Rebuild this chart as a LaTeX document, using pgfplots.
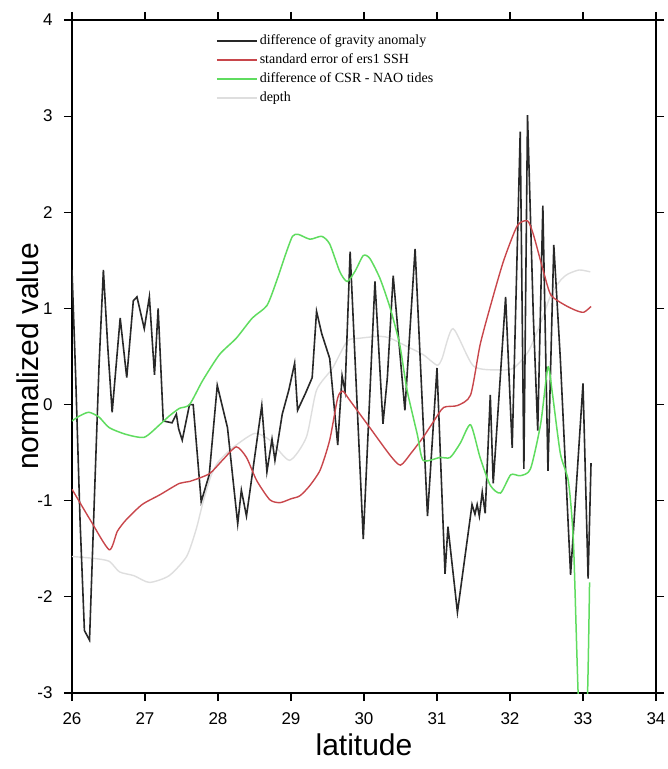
\documentclass[border=0pt]{standalone}
\usepackage{fontspec}
\setmainfont{Liberation Sans}
\newfontfamily\legfont{Liberation Serif}
\usepackage{pgfplots}
\pgfplotsset{compat=1.18}
\definecolor{gblack}{RGB}{40,40,40}
\definecolor{gred}{RGB}{200,70,75}
\definecolor{ggreen}{RGB}{95,220,95}
\definecolor{ggray}{RGB}{222,222,222}
\begin{document}
\begin{tikzpicture}
\begin{axis}[name=ax, scale only axis, width=584pt, height=673pt,
  xmin=26, xmax=34, ymin=-3, ymax=4,
  xtick={26,27,...,34}, ytick={-3,-2,...,4},
  tick align=outside, major tick length=8pt,
  axis line style={line width=1.8pt},
  every tick/.style={black, line width=1.2pt},
  /pgf/number format/assume math mode=true,
  ticklabel style={font=\fontsize{17}{17}\selectfont},
  xticklabel style={yshift=-8pt},
  yticklabel style={xshift=-8pt},
  xlabel={latitude}, ylabel={normalized value},
  label style={font=\fontsize{30}{30}\selectfont},
  xlabel style={at={(axis description cs:0.5,-0.0773)}, anchor=center},
  ylabel style={at={(axis description cs:-0.0753,0.5)}, anchor=center},
  legend style={at={(axis description cs:0.2414,0.986)}, anchor=north west,
    draw=none, fill=none, font=\legfont\fontsize{14}{16}\selectfont,
    nodes={text height=11pt, text depth=4pt, inner sep=2pt}, row sep=0pt},
  legend cell align=left,
  legend image code/.code={\draw[#1] (0pt,0pt) -- (40pt,0pt);},
]
\addplot[ggray, line width=1.4pt, forget plot, smooth, tension=0.4] coordinates {
(26.00,-1.58) (26.30,-1.60) (26.51,-1.63) (26.65,-1.74) (26.85,-1.78) (27.06,-1.85)
(27.33,-1.78) (27.57,-1.58) (27.70,-1.30) (27.79,-1.03) (27.90,-0.75) (28.00,-0.60)
(28.20,-0.45) (28.50,-0.30) (28.71,-0.37) (28.98,-0.58) (29.21,-0.34) (29.35,0.15)
(29.57,0.38) (29.77,0.66) (29.94,0.69) (30.22,0.71) (30.36,0.69) (30.60,0.60)
(30.81,0.52) (31.00,0.41) (31.07,0.48) (31.22,0.79) (31.50,0.40) (31.87,0.36)
(32.05,0.38) (32.25,0.55) (32.42,0.85) (32.56,1.14) (32.70,1.30) (32.80,1.36)
(32.95,1.40) (33.10,1.38)
};
\addplot[gblack, line width=1.6pt] coordinates {
(26.00,1.40) (26.05,0.30) (26.11,-1.20) (26.17,-2.35) (26.24,-2.45) (26.31,-0.90)
(26.37,0.40) (26.43,1.40) (26.49,0.60) (26.55,-0.08) (26.66,0.90) (26.75,0.28)
(26.84,1.08) (26.89,1.12) (26.99,0.79) (27.06,1.12) (27.13,0.31) (27.18,1.00)
(27.25,-0.17) (27.37,-0.19) (27.43,-0.10) (27.46,-0.25) (27.51,-0.37) (27.61,0.00)
(27.66,0.00) (27.77,-1.01) (27.88,-0.73) (27.99,0.20) (28.13,-0.24) (28.27,-1.24)
(28.32,-0.89) (28.39,-1.16) (28.60,-0.01) (28.67,-0.70) (28.74,-0.36) (28.78,-0.58)
(28.88,-0.10) (28.97,0.15) (29.05,0.43) (29.09,-0.06) (29.20,0.12) (29.29,0.28)
(29.35,0.97) (29.42,0.74) (29.53,0.48) (29.64,-0.42) (29.70,0.30) (29.74,0.14)
(29.81,1.59) (29.99,-1.40) (30.15,1.28) (30.26,-0.20) (30.32,0.28) (30.40,1.34)
(30.45,0.90) (30.56,-0.06) (30.70,1.62) (30.87,-1.16) (31.00,0.38) (31.11,-1.76)
(31.15,-1.27) (31.28,-2.16) (31.48,-1.04) (31.52,-1.14) (31.55,-1.04) (31.58,-1.16)
(31.62,-0.91) (31.66,-1.13) (31.73,0.10) (31.77,-0.82) (31.94,1.12) (32.03,-0.45)
(32.14,2.84) (32.19,-0.67) (32.24,3.01) (32.32,0.91) (32.38,-0.27) (32.45,2.07)
(32.52,-0.69) (32.60,1.66) (32.69,0.47) (32.83,-1.77) (33.00,0.22) (33.07,-1.81)
(33.11,-0.61)
};
\addlegendentry{difference of gravity anomaly}
\addplot[gred, line width=1.4pt, smooth, tension=0.4] coordinates {
(26.00,-0.88) (26.25,-1.20) (26.51,-1.51) (26.62,-1.32) (26.74,-1.20) (26.96,-1.04)
(27.20,-0.94) (27.47,-0.82) (27.61,-0.80) (27.88,-0.72) (28.06,-0.58) (28.25,-0.44)
(28.39,-0.55) (28.53,-0.79) (28.71,-0.99) (28.85,-1.02) (29.00,-0.98) (29.12,-0.95)
(29.25,-0.85) (29.40,-0.68) (29.53,-0.37) (29.64,0.07) (29.71,0.14) (29.80,0.05)
(30.08,-0.24) (30.36,-0.53) (30.50,-0.63) (30.65,-0.50) (30.81,-0.34) (30.95,-0.18)
(31.09,-0.03) (31.28,-0.01) (31.46,0.10) (31.59,0.62) (31.73,1.02) (31.91,1.49)
(32.10,1.86) (32.24,1.91) (32.32,1.77) (32.46,1.38) (32.56,1.14) (32.74,1.04)
(32.90,0.98) (33.01,0.96) (33.11,1.02)
};
\addlegendentry{standard error of ers1 SSH}
\addplot[ggreen, line width=1.5pt, smooth, tension=0.4] coordinates {
(26.00,-0.17) (26.10,-0.12) (26.23,-0.08) (26.37,-0.13) (26.51,-0.24) (26.74,-0.31)
(26.99,-0.34) (27.20,-0.21) (27.33,-0.12) (27.47,-0.04) (27.61,0.00) (27.79,0.25)
(28.02,0.52) (28.25,0.69) (28.47,0.90) (28.67,1.03) (28.80,1.28) (28.92,1.55)
(29.02,1.75) (29.10,1.77) (29.26,1.72) (29.42,1.75) (29.53,1.67) (29.67,1.38)
(29.77,1.28) (29.88,1.39) (29.99,1.55) (30.08,1.52) (30.22,1.31) (30.36,1.00)
(30.49,0.62) (30.59,0.15) (30.73,-0.31) (30.81,-0.58) (31.04,-0.55) (31.18,-0.55)
(31.32,-0.40) (31.46,-0.21) (31.59,-0.55) (31.73,-0.84) (31.87,-0.92) (32.01,-0.73)
(32.14,-0.74) (32.28,-0.67) (32.42,-0.20) (32.52,0.39) (32.58,0.12) (32.69,-0.51)
(32.80,-0.80) (32.87,-1.45) (32.95,-3.30) (33.05,-3.30) (33.09,-1.85)
};
\addlegendentry{difference of CSR - NAO tides}
\addlegendimage{ggray, line width=1.4pt}
\addlegendentry{depth}
\end{axis}
\pgfresetboundingbox
\path ([shift={(-72pt,-76pt)}]ax.south west) rectangle ([shift={(12pt,20pt)}]ax.north east);
\end{tikzpicture}
\end{document}
